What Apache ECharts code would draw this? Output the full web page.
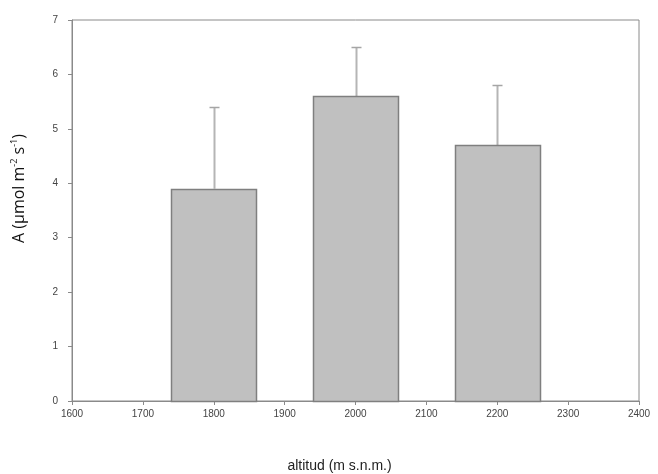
<!DOCTYPE html>
<html>
<head>
<meta charset="utf-8">
<script src="https://cdn.jsdelivr.net/npm/echarts@6/dist/echarts.min.js"></script>
<style>html,body{margin:0;padding:0;background:#fff}#c{width:658px;height:474px}</style>
</head>
<body>
<div id="c"></div>
<script>
const altitudes = [1800, 2000, 2200];
const meanA = [3.9, 5.6, 4.7];
const errA = [1.5, 0.9, 1.1];
const xTicks = [1600, 1700, 1800, 1900, 2000, 2100, 2200, 2300, 2400];
const yTicks = [0, 1, 2, 3, 4, 5, 6, 7];

const BAR_W = 120; // in axis units
const CAP_PX = 10;

const chart = echarts.init(document.getElementById('c'), null, {renderer: 'canvas'});
const font = 'Liberation Sans, Arial, sans-serif';
const nameFont = 'Open Sans, Noto Sans, sans-serif';
const axisColor = '#8a8a8a';

chart.setOption({
  animation: false,
  backgroundColor: '#fff',
  grid: {left: 72, right: 19, top: 20, bottom: 73, show: true, borderColor: axisColor, borderWidth: 1, containLabel: false, outerBoundsMode: 'none'},
  xAxis: {
    type: 'value', min: xTicks[0], max: xTicks[xTicks.length - 1], interval: 100,
    name: 'altitud (m s.n.m.)', nameLocation: 'middle', nameGap: 58,
    nameTextStyle: {fontFamily: font, fontSize: 14, color: '#222', padding: [0, 32, 0, 0]},
    axisLine: {show: true, lineStyle: {color: axisColor}},
    axisTick: {show: true, length: 4, lineStyle: {color: axisColor}},
    axisLabel: {fontFamily: font, fontSize: 10, color: '#444', margin: 8, formatter: v => String(v)},
    splitLine: {show: false}
  },
  yAxis: {
    type: 'value', min: yTicks[0], max: yTicks[yTicks.length - 1], interval: 1,
    name: '{n|A (µmol m}{s|-2}{n| s}{s|-1}{n|)}', nameLocation: 'middle', nameGap: 43,
    nameTextStyle: {
      fontFamily: nameFont, color: '#111', padding: [0, 0, 0, 44],
      rich: {
        n: {fontFamily: nameFont, fontSize: 16, color: '#111'},
        s: {fontFamily: nameFont, fontSize: 9, color: '#111', padding: [0, 0, 10, 0]}
      }
    },
    axisLine: {show: true, lineStyle: {color: axisColor}},
    axisTick: {show: true, length: 4, lineStyle: {color: axisColor}},
    axisLabel: {fontFamily: font, fontSize: 10, color: '#444', margin: 14},
    splitLine: {show: false}
  },
  series: [
    {
      type: 'custom',
      data: altitudes.map((a, i) => [a, meanA[i]]),
      renderItem: function (params, api) {
        const x = api.value(0), y = api.value(1);
        const p0 = api.coord([x - BAR_W / 2, y]);
        const p1 = api.coord([x + BAR_W / 2, 0]);
        return {
          type: 'rect',
          shape: {x: Math.round(p0[0]) + 0.5, y: Math.round(p0[1]) + 0.5, width: Math.round(p1[0] - p0[0]), height: Math.round(p1[1] - p0[1])},
          style: {fill: '#c0c0c0', stroke: '#7f7f7f', lineWidth: 1.5}
        };
      },
      z: 2
    },
    {
      type: 'custom',
      data: altitudes.map((a, i) => [a, meanA[i], meanA[i] + errA[i]]),
      renderItem: function (params, api) {
        const x = api.value(0), y = api.value(1), t = api.value(2);
        const pb = api.coord([x, y]);
        const pt = api.coord([x, t]);
        const cx = Math.round(pb[0]) + 0.5;
        return {
          type: 'group',
          children: [
            {type: 'line', shape: {x1: cx, y1: pb[1], x2: cx, y2: pt[1]}, style: {stroke: '#b5b5b5', lineWidth: 2}},
            {type: 'line', shape: {x1: cx - CAP_PX / 2, y1: Math.round(pt[1]) + 0.5, x2: cx + CAP_PX / 2, y2: Math.round(pt[1]) + 0.5}, style: {stroke: '#a5a5a5', lineWidth: 1.5}}
          ]
        };
      },
      z: 1
    }
  ]
});
</script>
</body>
</html>
